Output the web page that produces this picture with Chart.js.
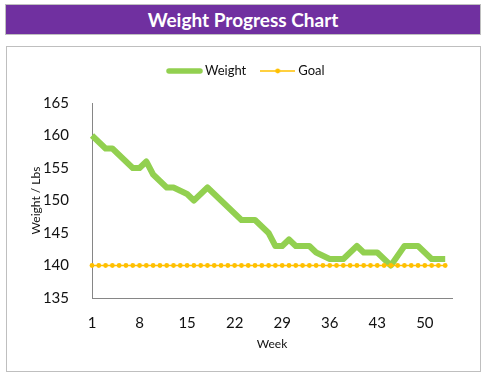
<!DOCTYPE html>
<html>
<head>
<meta charset="utf-8">
<script src="https://cdn.jsdelivr.net/npm/chart.js@4/dist/chart.umd.min.js"></script>
<style>
  html, body { margin: 0; padding: 0; background: #ffffff; }
  body { width: 487px; height: 382px; position: relative; overflow: hidden; font-family: Lato, "Open Sans", sans-serif; }
  #titlebar {
    position: absolute; left: 5px; top: 4px; width: 476px; height: 31px;
    box-sizing: border-box; background: #7030A0; border: 1px solid #BFBFBF;
    color: #ffffff; font-weight: bold; font-size: 19px; line-height: 29px; text-align: center;
  }
  #box {
    position: absolute; left: 6px; top: 46px; width: 475px; height: 326px;
    box-sizing: border-box; border: 1px solid #BFBFBF; background: #ffffff;
  }
  #wrap { position: absolute; left: 7px; top: 47px; width: 473px; height: 324px; }
</style>
</head>
<body>
<div id="titlebar">Weight Progress Chart</div>
<div id="box"></div>
<div id="wrap"><canvas id="c" width="473" height="324"></canvas></div>
<script>
const weeks = [];
for (let w = 1; w <= 54; w++) weeks.push(String(w));

const weightValues = [160, 159, 158, 158, 157, 156, 155, 155, 156, 154,
                      153, 152, 152, 151.5, 151, 150, 151, 152, 151, 150,
                      149, 148, 147, 147, 147, 146, 145, 143, 143, 144,
                      143, 143, 143, 142, 141.5, 141, 141, 141, 142, 143,
                      142, 142, 142, 141, 140, 141.5, 143, 143, 143, 142,
                      141, 141, 141];
const goalValues = [140, 140, 140, 140, 140, 140, 140, 140, 140, 140,
                    140, 140, 140, 140, 140, 140, 140, 140, 140, 140,
                    140, 140, 140, 140, 140, 140, 140, 140, 140, 140,
                    140, 140, 140, 140, 140, 140, 140, 140, 140, 140,
                    140, 140, 140, 140, 140, 140, 140, 140, 140, 140,
                    140, 140, 140];
const yTicks = [135, 140, 145, 150, 155, 160, 165];

const GREEN = '#92D050';
const GOLD = '#FFC000';

function weightSample() {
  const cv = document.createElement('canvas');
  cv.width = 37; cv.height = 6;
  const g = cv.getContext('2d');
  g.strokeStyle = GREEN; g.lineWidth = 5.5; g.lineCap = 'round';
  g.beginPath(); g.moveTo(3, 3); g.lineTo(34, 3); g.stroke();
  return cv;
}
function goalSample() {
  const cv = document.createElement('canvas');
  cv.width = 35; cv.height = 6;
  const g = cv.getContext('2d');
  g.strokeStyle = GOLD; g.lineWidth = 1.5;
  g.beginPath(); g.moveTo(0, 3); g.lineTo(35, 3); g.stroke();
  g.fillStyle = GOLD; g.beginPath(); g.arc(17.5, 3, 2.4, 0, Math.PI * 2); g.fill();
  return cv;
}
const samples = [weightSample(), goalSample()];

Chart.defaults.font.family = 'Lato, "Open Sans", sans-serif';
Chart.defaults.color = '#111111';

const legendPlace = {
  id: 'legendPlace',
  beforeInit(chart) {
    const fit = chart.legend.fit;
    chart.legend.fit = function () { fit.call(this); this.height = 56; };
  },
  afterLayout(chart) {
    const lg = chart.legend;
    lg.left = 8; lg.right = chart.width; lg.width = lg.right - lg.left;
  }
};

new Chart(document.getElementById('c'), {
  type: 'line',
  data: {
    labels: weeks,
    datasets: [
      {
        label: 'Weight', data: weightValues, order: 1,
        borderColor: GREEN, backgroundColor: GREEN, borderWidth: 6,
        borderCapStyle: 'butt', borderJoinStyle: 'round',
        pointRadius: 0, tension: 0, fill: false
      },
      {
        label: 'Goal', data: goalValues, order: 0,
        borderColor: GOLD, backgroundColor: GOLD, borderWidth: 1.5,
        pointRadius: 2.4, pointBackgroundColor: GOLD, pointBorderWidth: 0,
        tension: 0, fill: false
      }
    ]
  },
  options: {
    responsive: false,
    animation: false,
    layout: { padding: { top: 0, right: 28, bottom: 0, left: 0 } },
    plugins: {
      tooltip: { enabled: false },
      legend: {
        position: 'top',
        labels: {
          font: { size: 13 },
          color: '#111111',
          padding: 17.5,
          usePointStyle: true,
          pointStyleWidth: 28,
          sort: (a, b) => a.datasetIndex - b.datasetIndex,
          generateLabels(chart) {
            const items = Chart.defaults.plugins.legend.labels.generateLabels(chart);
            items.forEach(it => { it.pointStyle = samples[it.datasetIndex]; });
            return items;
          }
        }
      }
    },
    scales: {
      x: {
        type: 'category',
        offset: false,
        grid: { display: false },
        border: { display: true, color: '#868686', width: 1 },
        ticks: {
          autoSkip: false, maxRotation: 0, padding: 8,
          font: { size: 15 }, color: '#111111',
          callback: function (v, i) { return i % 7 === 0 ? weeks[i] : null; }
        },
        title: { display: true, text: 'Week', font: { size: 12 }, color: '#111111', padding: { top: 0, bottom: 20 } },
        afterFit(axis) { axis.height = 73; }
      },
      y: {
        min: 135, max: 165,
        grid: { display: false },
        border: { display: true, color: '#868686', width: 1 },
        afterBuildTicks(axis) { axis.ticks = yTicks.map(v => ({ value: v })); },
        ticks: { padding: 15, font: { size: 15 }, color: '#111111' },
        title: { display: true, text: 'Weight / Lbs', font: { size: 12 }, color: '#111111', padding: { top: 22, bottom: 0 } },
        afterFit(axis) { axis.width = 85; }
      }
    }
  },
  plugins: [legendPlace]
});
</script>
</body>
</html>
